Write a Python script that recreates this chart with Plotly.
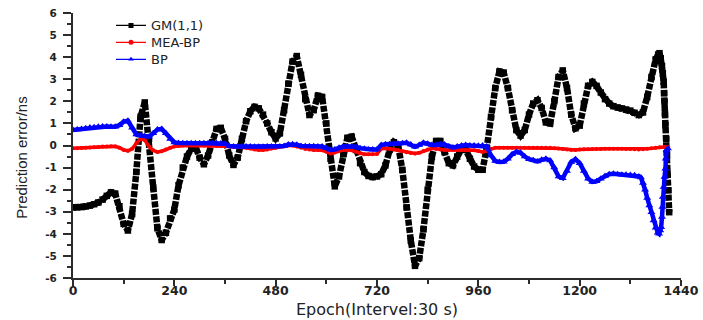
import plotly.graph_objects as go

# ---------------- data ----------------
gm_epochs = list(range(0, 1390, 10))
gm_values = [
    -2.80, -2.80, -2.79, -2.76, -2.72, -2.66, -2.58, -2.45, -2.28, -2.12,
    -2.18, -2.75, -3.55, -3.85, -3.10, -1.20, 1.30, 1.95, 0.30, -1.90,
    -3.75, -4.28, -3.95, -3.30, -2.90, -1.80, -1.00, -0.50, -0.15, -0.05,
    -0.55, -0.85, -0.45, 0.15, 0.75, 0.80, 0.30, -0.45, -0.88, -0.55,
    0.30, 1.10, 1.55, 1.75, 1.68, 1.40, 1.00, 0.60, 0.32, 0.55,
    1.60, 2.80, 3.80, 4.05, 3.20, 2.10, 1.38, 1.60, 2.25, 2.20,
    1.00, -0.60, -1.85, -1.40, -0.40, 0.35, 0.40, -0.20, -0.80, -1.20,
    -1.38, -1.43, -1.40, -1.30, -0.90, -0.20, 0.15, 0.00, -1.10, -2.80,
    -4.30, -5.45, -5.10, -3.80, -2.00, -0.50, 0.20, 0.20, -0.30, -0.80,
    -0.90, -0.50, -0.15, -0.20, -0.60, -0.95, -1.10, -1.10, -0.10, 1.30,
    2.60, 3.35, 3.30, 2.60, 1.60, 0.70, 0.45, 0.70, 1.40, 1.90,
    2.05, 1.70, 1.05, 1.00, 2.00, 3.10, 3.40, 2.60, 1.40, 0.78,
    0.90, 1.90, 2.70, 2.88, 2.70, 2.40, 2.10, 1.90, 1.78, 1.72,
    1.68, 1.63, 1.58, 1.48, 1.38, 1.50, 2.20, 3.10, 3.90,
]
gm_tail_epochs = [1386, 1389, 1392, 1395, 1397, 1399, 1400, 1401, 1402, 1403, 1405, 1407, 1408, 1410, 1412]
gm_tail_values = [4.12, 4.18, 3.95, 3.60, 3.27, 2.89, 2.36, 1.98, 1.45, 0.92, 0.29, -0.44, -1.27, -2.03, -3.02]

mea_epochs = list(range(0, 1420, 10))
mea_values = [
    -0.12, -0.12, -0.11, -0.10, -0.09, -0.08, -0.07, -0.05, -0.04, -0.03,
    -0.04, -0.10, -0.20, -0.24, -0.15, 0.10, 0.30, 0.25, -0.05, -0.22,
    -0.29, -0.26, -0.18, -0.10, -0.04, -0.02, 0.00, 0.00, 0.00, 0.00,
    0.00, 0.00, 0.00, -0.01, -0.02, -0.02, -0.03, -0.05, -0.06, -0.07,
    -0.08, -0.10, -0.14, -0.18, -0.20, -0.20, -0.18, -0.14, -0.10, -0.06,
    -0.03, 0.00, 0.00, -0.04, -0.10, -0.16, -0.18, -0.20, -0.20, -0.22,
    -0.28, -0.36, -0.32, -0.24, -0.20, -0.20, -0.22, -0.28, -0.35, -0.40,
    -0.40, -0.40, -0.38, -0.15, -0.13, -0.15, -0.18, -0.22, -0.26, -0.30,
    -0.34, -0.36, -0.33, -0.25, -0.18, -0.13, -0.15, -0.18, -0.20, -0.20,
    -0.20, -0.20, -0.20, -0.20, -0.21, -0.22, -0.25, -0.29, -0.24, -0.15,
    -0.10, -0.10, -0.10, -0.10, -0.10, -0.10, -0.10, -0.10, -0.10, -0.10,
    -0.10, -0.10, -0.10, -0.10, -0.12, -0.14, -0.16, -0.18, -0.20, -0.20,
    -0.18, -0.17, -0.17, -0.16, -0.16, -0.16, -0.15, -0.15, -0.15, -0.15,
    -0.15, -0.16, -0.16, -0.17, -0.18, -0.17, -0.15, -0.13, -0.10, -0.08,
    -0.07, -0.07,
]

bp_epochs = list(range(0, 1350, 10)) + list(range(1345, 1390, 5))
bp_values = [
    0.70, 0.72, 0.75, 0.78, 0.81, 0.83, 0.85, 0.86, 0.86, 0.85,
    0.85, 0.92, 1.08, 1.12, 0.80, 0.50, 0.45, 0.42, 0.40, 0.55,
    0.72, 0.75, 0.55, 0.30, 0.14, 0.11, 0.10, 0.10, 0.10, 0.10,
    0.10, 0.10, 0.10, 0.10, 0.10, 0.09, 0.08, -0.02, -0.05, -0.05,
    -0.05, -0.05, -0.05, -0.06, -0.06, -0.06, -0.05, -0.05, -0.05, -0.04,
    -0.02, 0.04, 0.06, 0.03, -0.02, -0.03, -0.03, -0.03, -0.04, -0.05,
    -0.12, -0.20, -0.18, -0.10, -0.05, -0.04, -0.04, -0.06, -0.12, -0.15,
    -0.18, -0.18, -0.18, 0.02, 0.06, 0.06, 0.08, 0.08, 0.10, 0.12,
    0.05, -0.06, 0.02, 0.12, 0.08, 0.02, 0.02, 0.06, 0.04, -0.04,
    -0.09, -0.05, 0.00, 0.02, 0.00, 0.00, -0.01, 0.00, -0.05, -0.45,
    -0.70, -0.75, -0.74, -0.60, -0.40, -0.29, -0.33, -0.50, -0.62, -0.67,
    -0.72, -0.65, -0.60, -0.68, -1.00, -1.40, -1.48, -1.15, -0.75, -0.62,
    -0.80, -1.15, -1.50, -1.65, -1.62, -1.50, -1.38, -1.30, -1.28, -1.30,
    -1.32, -1.33, -1.34, -1.35, -1.40,
    -1.45, -1.70, -2.00, -2.38, -2.72, -3.02, -3.40, -3.72, -3.95,
]
bp_tail_epochs = [1388, 1391, 1393, 1395, 1396, 1397, 1399, 1401, 1403, 1404, 1406, 1409]
bp_tail_values = [-4.00, -3.85, -3.70, -3.24, -2.79, -2.33, -1.88, -1.43, -1.05, -0.60, -0.21, -0.14]

series_names = ["GM(1,1)", "MEA-BP", "BP"]
x_ticks = [0, 240, 480, 720, 960, 1200, 1440]
y_ticks = [-6, -5, -4, -3, -2, -1, 0, 1, 2, 3, 4, 5, 6]

# ---------------- figure ----------------
gm_x = gm_epochs + gm_tail_epochs
gm_y = gm_values + gm_tail_values
bp_x = bp_epochs + bp_tail_epochs
bp_y = bp_values + bp_tail_values

AX = "#2b2b2b"
fig = go.Figure()

# GM(1,1): dense black squares (thick, finely dashed line fills between them)
fig.add_trace(go.Scatter(x=gm_x, y=gm_y, mode="lines",
                         line=dict(color="black", width=6.5, dash="6px,1.5px"),
                         showlegend=False, hoverinfo="skip"))
fig.add_trace(go.Scatter(x=gm_x, y=gm_y, mode="markers",
                         marker=dict(symbol="square", size=6.5, color="black"),
                         showlegend=False))
# MEA-BP
fig.add_trace(go.Scatter(x=mea_epochs, y=mea_values, mode="lines+markers",
                         line=dict(color="#ff0000", width=3.5),
                         marker=dict(symbol="circle", size=4, color="#ff0000"),
                         showlegend=False))
# BP
fig.add_trace(go.Scatter(x=bp_x, y=bp_y, mode="lines+markers",
                         line=dict(color="#0000ff", width=4.5),
                         marker=dict(symbol="triangle-up", size=7, color="#0000ff"),
                         showlegend=False))

# legend entries (one small legend per entry so the rows sit close together)
legend_styles = [("black", "square"), ("#ff0000", "circle"), ("#0000ff", "triangle-up")]
legend_ids = ["legend", "legend2", "legend3"]
for name, (col, sym), lid in zip(series_names, legend_styles, legend_ids):
    fig.add_trace(go.Scatter(x=[None], y=[None], mode="lines+markers", name=name,
                             legend=lid,
                             line=dict(color=col, width=1.2),
                             marker=dict(symbol=sym, size=5, color=col)))

legend_common = dict(x=0.0625, xanchor="left", yanchor="middle",
                     bgcolor="rgba(0,0,0,0)", borderwidth=0,
                     font=dict(family="DejaVu Sans", size=13, color="#222"))

fig.update_layout(
    width=703, height=320,
    margin=dict(l=73, r=22, t=13, b=42, autoexpand=False),
    paper_bgcolor="white", plot_bgcolor="white",
    font=dict(family="DejaVu Sans", color="#222"),
    legend=dict(y=0.953, **legend_common),
    legend2=dict(y=0.889, **legend_common),
    legend3=dict(y=0.825, **legend_common),
    annotations=[
        dict(text="Prediction error/ns", textangle=-90,
             xref="paper", yref="paper", x=-0.086, y=0.456,
             showarrow=False, xanchor="center", yanchor="middle",
             font=dict(family="Liberation Sans, Arial", size=15, color="#222")),
        dict(text="Epoch(Intervel:30 s)",
             xref="paper", yref="paper", x=0.5, y=-0.1609,
             showarrow=False, xanchor="center", yanchor="bottom",
             font=dict(family="DejaVu Sans", size=16, color="#222")),
    ],
)
fig.update_xaxes(range=[0, 1440], tickmode="array", tickvals=x_ticks,
                 ticktext=[str(v) for v in x_ticks], automargin=False,
                 ticks="outside", ticklen=6, tickwidth=2, tickcolor=AX,
                 showline=True, linewidth=2, linecolor=AX,
                 showgrid=False, zeroline=False, ticklabelstandoff=-6,
                 tickfont=dict(family="DejaVu Sans", size=12.5, weight="bold", color="#222"),
                 minor=dict(dtick=120, tick0=0, ticks="outside", ticklen=4, tickwidth=2,
                            tickcolor=AX, showgrid=False))
fig.update_yaxes(range=[-6, 6], tickmode="array", tickvals=y_ticks,
                 ticktext=[str(v) for v in y_ticks], automargin=False,
                 ticks="outside", ticklen=8, tickwidth=2, tickcolor=AX,
                 showline=True, linewidth=2, linecolor=AX,
                 showgrid=False, zeroline=False, ticklabelstandoff=4,
                 tickfont=dict(family="DejaVu Sans", size=10.5, weight="bold", color="#222"),
                 minor=dict(dtick=0.5, tick0=0, ticks="outside", ticklen=4, tickwidth=2,
                            tickcolor=AX, showgrid=False))

fig.write_html("out.html", config={"displayModeBar": False},
               post_script="document.body.style.margin='0';document.body.style.overflow='hidden';")
